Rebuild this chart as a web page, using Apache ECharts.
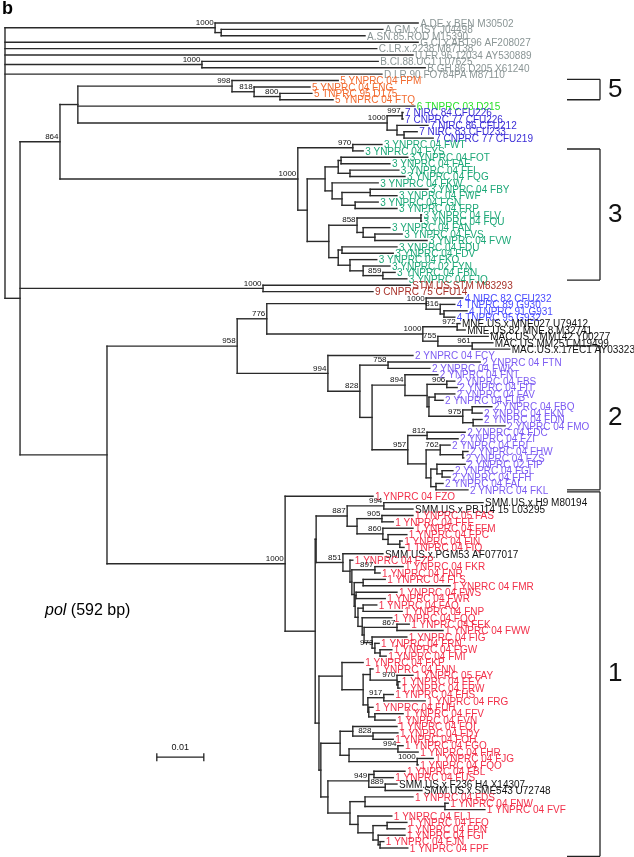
<!DOCTYPE html>
<html><head><meta charset="utf-8">
<script src="https://cdn.jsdelivr.net/npm/echarts@6/dist/echarts.min.js"></script>
<style>html,body{margin:0;padding:0;background:#fff}#c{width:634px;height:857px}</style>
</head><body><div id="c"></div><script>
// Node depths = distance from root, in units of 0.001 substitutions/site (Newick-like, cumulative).
const cladeA = "(A.DE.x.BEN M30502:87.9,(A.GM.x.ISY J04498:80.4,A.SN.85.ROD M15390:76.6):46.0)1000:44.7";
const cladeB = "(B.CI.88.UC1 L07625:79.4,B.GH.86.D205 X61240:89.4)1000:41.9";
const clade5 = "(5 YNPRC 04 FPM:70.9,(5 YNPRC 04 FNG:64.9,(5 TNPRC 95 D175:65.3,5 YNPRC 04 FTQ:69.8)800:58.5)818:53.0)998:48.3";
const clade7 = "((7 NIRC 84 CFU226:84.7,7 CNPRC 77 CFU226:84.7)997:84.5,(7 NIRC 86 CFU212:90.0,(7 NIRC 83 CFU233:87.7,7 CNPRC 77 CFU219:91.1):84.9):83.4)1000:81.3";
const clade3 = "((3 YNPRC 04 FWT:80.2,3 YNPRC 04 FYS:76.2)970:74.0,((((3 YNPRC 04 FOT:85.7,3 YNPRC 04 FAE:81.9):71.5,(3 YNPRC 04 FFI:83.8,3 YNPRC 04 FQG:85.1):73.4):70.9,(3 YNPRC 04 FKW:79.4,((3 YNPRC 04 FBY:90.0,3 YNPRC 04 FWF:83.4):77.7,(3 YNPRC 04 FGN:79.4,3 YNPRC 04 FRP:83.4):74.5):71.7):69.6):68.1,(((3 YNPRC 04 FLV:88.6,3 YNPRC 04 FQU:88.6):88.5,(3 YNPRC 04 FAN:81.9,(3 YNPRC 04 FVS:84.5,3 YNPRC 04 FVW:89.8):78.7):76.2)858:74.9,((3 YNPRC 04 FDU:83.4,3 YNPRC 04 FDV:82.6):71.7,(3 YNPRC 04 FKO:79.1,(3 YNPRC 02 FYN:81.9,(3 YNPRC 04 FBN:83.0,3 YNPRC 04 FJQ:85.5)859:80.4):76.2):73.4):70.9):68.9):64.3)1000:62.3";
const cladeSTM = "(STM.US.STM M83293:86.2,9 CNPRC 75 CFU14:78.3)1000:54.9";
const clade4 = "((4 NIRC 82 CFU232:97.4,(4 TNPRC 89 G930:95.7,(4 TNPRC 91 G931:98.3,4 TNPRC 95 G932:95.7):93.4)816:92.6)1000:89.6,((MNE.US.x.MNE027 U79412:96.8,MNE.US.82.MNE 8 M32741:97.9)972:96.2,(MAC.US.x.MM142 Y00277:102.8,(MAC.US.MM251 M19499:103.8,MAC.US.x.17EC1 AY033233:107.4)961:99.4)755:92.1)1000:88.9)776:55.7";
const clade2 = "(2 YNPRC 04 FCY:86.8,((2 YNPRC 04 FTN:101.1,2 YNPRC 04 FWK:90.4)758:81.5,((2 YNPRC 04 FNT:92.1,((2 YNPRC 04 FBS:95.7,2 YNPRC 04 FIT:96.2)906:94.0,((2 YNPRC 04 FAV:95.7,2 YNPRC 04 FUP:93.2):91.5,((2 YNPRC 04 FBQ:103.6,2 YNPRC 04 FKN:101.5):99.4,(2 YNPRC 04 FDN:101.5,2 YNPRC 04 FMO:106.4):99.6)975:97.4):90.2):89.8)894:85.1,((2 YNPRC 04 FDC:97.9,2 YNPRC 04 FZI:96.4)812:89.8,((2 YNPRC 04 FRI:94.7,(2 YNPRC 04 FHW:98.5,2 YNPRC 04 FZS:97.6):97.4)762:92.6,((2 YNPRC 02 FIP:97.9,(2 YNPRC 04 FGL:95.3,2 YNPRC 04 FFH:94.7):93.0):91.9,(2 YNPRC 04 FAL:93.2,2 YNPRC 04 FKL:98.5):91.7):90.6):89.6)957:85.7):78.1)828:75.5)994:68.7";
const clade887 = "((SMM.US.x.H9 M80194:101.7,SMM.US.x.PBJ14 15 L03295:86.8)994:80.6,((1 YNPRC 05 FAS:86.8,1 YNPRC 04 FFE:82.6)905:80.2,(1 YNPRC 04 FFM:86.8,(1 YNPRC 04 FPC:85.5,(1 YNPRC 04 FIN:84.5,1 TNPRC 04 FIQ:84.9):84.0):81.5)860:80.4):74.9)887:72.8";
const clade851 = "(SMM.US.x.PGM53 AF077017:80.4,(1 YNPRC 04 FZP:74.0,((1 YNPRC 04 FKR:84.7,1 YNPRC 04 FNR:79.8)897:78.7,((1 YNPRC 04 FLS:80.9,1 YNPRC 04 FMR:94.7):76.2,((1 YNPRC 04 FWS:83.4,1 YNPRC 04 FWR:80.9):74.7,((1 YNPRC 04 FAQ:79.1,1 YNPRC 04 FNP:84.5):76.2,(1 YNPRC 04 FQQ:82.3,((1 YNPRC 04 FEK:86.0,1 YNPRC 04 FWW:93.2)867:83.4,(1 YNPRC 04 FIG:85.5,(1 YNPRC 04 FRN:79.6,(1 YNPRC 04 FGW:82.3,1 YNPRC 04 FMI:81.1):79.8)973:78.7):78.1):76.4):76.0):75.1):74.5):74.3):73.8):73.4)851:71.9";
const cladeT1 = "(1 YNPRC 04 FKP:76.2,((1 YNPRC 04 FNN:78.3,(1 YNPRC 05 FAY:86.8,(1 YNPRC 04 FEY:84.0,1 YNPRC 04 FRW:84.0):83.6)970:83.4):77.7,((1 YNPRC 04 FHS:82.6,1 YNPRC 04 FRG:89.4)917:80.6,(1 YNPRC 04 FUH:78.3,(1 YNPRC 04 FFV:84.7,1 YNPRC 04 FVN:83.0):78.7):77.4):77.2):76.2):71.7";
const cladeU1 = "(((1 YNPRC 04 FQI:83.4,(1 YNPRC 04 FDY:83.6,1 YNPRC 04 FOH:82.6)828:78.3):74.0,((1 YNPRC 04 FGO:84.7,1 YNPRC 04 FHR:87.9)994:83.6,(1 YNPRC 04 FJG:91.1,1 YNPRC 04 FQO:87.9)1000:87.7):73.2):71.3,(((1 YNPRC 04 FBL:85.1,1 YNPRC 04 FUS:82.6):78.5,(SMM.US.x.F236 H4 X14307:83.4,SMM.US.x.SME543 U72748:88.7)889:80.9)949:77.4,((1 YNPRC 04 FDS:86.8,(1 YNPRC 04 FNW:94.3,1 YNPRC 04 FVF:102.1):93.6):76.6,(1 YNPRC 04 FLJ:82.3,((1 YNPRC 04 FFQ:85.5,1 YNPRC 04 FPN:85.1):81.3,(1 YNPRC 04 FGI:85.1,(1 YNPRC 04 FJN:80.6,1 YNPRC 04 FPF:85.7):79.8):79.4):78.3):75.1):73.4):68.7):67.2";
const clade1 = "(1 YNPRC 04 FZO:78.3,((@C887,@C851):66.2,(@T1,@U1):66.8):66.0)1000:59.6";
const backbone = "(@A,G.CI.x.ABT96 AF208027:87.9,C.LR.x.2238 M87138:79.1,U.FR.96.12034 AY530889:86.8,@B,D.LR.90.FO784PA M87110:80.2,(((@C5,6 TNPRC 03 D215:87.2,@C7):15.5,@C3)864:11.7,@STM,((@C4,@C2)958:49.4,@C1):21.7):3.2):0";

const scaleBarValue = 10;          // 0.01 substitutions/site
const scaleBarLabel = "0.01";
const groupNames = ["5", "3", "2", "1"];
const groupSpans = [[8.8, 12.0], [19.7, 40.2], [50.5, 73.0], [73.3, 130.3]]; // in leaf rows

const parts = {A: cladeA, B: cladeB, C5: clade5, C7: clade7, C3: clade3, STM: cladeSTM, C4: clade4, C2: clade2,
  C887: clade887, C851: clade851, T1: cladeT1, U1: cladeU1, C1: clade1};
function expand(s) { return s.replace(/@(\w+)/g, (m, k) => expand(parts[k])); }
function parse(s) {
  let i = 0;
  function node() {
    const n = {children: []};
    if (s[i] === '(') {
      i++; n.children.push(node());
      while (s[i] === ',') { i++; n.children.push(node()); }
      i++;
    }
    let lab = '';
    while (i < s.length && s[i] !== ':' && s[i] !== ',' && s[i] !== ')') lab += s[i++];
    n.label = lab.trim();
    if (s[i] === ':') { i++; let num = ''; while (i < s.length && /[0-9.]/.test(s[i])) num += s[i++]; n.depth = parseFloat(num); }
    return n;
  }
  return node();
}
const root = parse(expand(backbone));
const leaves = [], segs = [], boots = [];
(function layout(n, pd) {
  if (!n.children.length) { n.y = leaves.length; leaves.push(n); }
  else {
    n.children.forEach(c => layout(c, n.depth));
    const a = n.children[0].y, b = n.children[n.children.length - 1].y;
    n.y = (a + b) / 2;
    segs.push([n.depth, a, n.depth, b]);
    if (n.label) boots.push([n.depth, n.y, n.label]);
  }
  if (pd !== undefined) segs.push([pd, n.y, n.depth, n.y]);
})(root);

function colorOf(name) {
  const p = name.split(' ')[0];
  if (p === '1') return '#f2304a';
  if (p === '2') return '#7d5cf2';
  if (p === '3') return '#1ea878';
  if (p === '4') return '#4a4cff';
  if (p === '5') return '#f26b30';
  if (p === '6') return '#2be02b';
  if (p === '7') return '#3a2cd6';
  if (p === '9' || name.startsWith('STM')) return '#a8322a';
  if (/^(SMM|MNE|MAC)/.test(name)) return '#111111';
  return '#8a9595';
}
const FONT = "'Liberation Sans', Arial, Helvetica, sans-serif";
const chart = echarts.init(document.getElementById('c'), null, {renderer: 'canvas'});
chart.setOption({
  animation: false,
  grid: {left: 5, right: 0, top: 23, bottom: 9, containLabel: false},
  xAxis: {type: 'value', min: 0, max: 629 / 4.7, show: false},
  yAxis: {type: 'value', min: 0, max: 129, inverse: true, show: false},
  graphic: [
    {type: 'text', left: 2, top: 0, style: {text: 'b', font: "bold 18px " + FONT, fill: '#000'}},
    {type: 'text', left: 45, top: 603, style: {text: '{i|pol} (592 bp)', font: "16px " + FONT, fill: '#000',
      rich: {i: {font: "italic 16px " + FONT, fill: '#000'}}}}
  ],
  series: [
    {type: 'custom', coordinateSystem: 'cartesian2d', clip: false, silent: true, data: segs,
      encode: {x: [0, 2], y: [1, 3]},
      renderItem: (p, api) => {
        const a = api.coord([api.value(0), api.value(1)]), b = api.coord([api.value(2), api.value(3)]);
        return {type: 'line', shape: {x1: a[0], y1: a[1], x2: b[0], y2: b[1]},
          style: {stroke: '#2a2a2a', lineWidth: 1.4, lineCap: 'square'}};
      }},
    {type: 'custom', coordinateSystem: 'cartesian2d', clip: false, silent: true,
      data: leaves.map((l, i) => [l.depth, l.y, i]),
      renderItem: (p, api) => {
        const c = api.coord([api.value(0), api.value(1)]);
        const name = leaves[api.value(2)].label;
        return {type: 'text', x: c[0] + 2, y: c[1] + 1,
          style: {text: name, fill: colorOf(name), font: "10px " + FONT, align: 'left', verticalAlign: 'middle'}};
      }},
    {type: 'custom', coordinateSystem: 'cartesian2d', clip: false, silent: true,
      data: boots.map((b, i) => [b[0], b[1], i]),
      renderItem: (p, api) => {
        const c = api.coord([api.value(0), api.value(1)]);
        return {type: 'text', x: c[0] - 1.5, y: c[1] - 1,
          style: {text: boots[api.value(2)][2], fill: '#111', font: "8px " + FONT, align: 'right', verticalAlign: 'bottom'}};
      }},
    {type: 'custom', coordinateSystem: 'cartesian2d', clip: false, silent: true,
      data: [[32.3, 114.8]],
      renderItem: (p, api) => {
        const a = api.coord([api.value(0), api.value(1)]), b = api.coord([api.value(0) + scaleBarValue, api.value(1)]);
        const st = {stroke: '#222', lineWidth: 1.3};
        return {type: 'group', children: [
          {type: 'line', shape: {x1: a[0], y1: a[1], x2: b[0], y2: b[1]}, style: st},
          {type: 'line', shape: {x1: a[0], y1: a[1] - 4, x2: a[0], y2: a[1] + 4}, style: st},
          {type: 'line', shape: {x1: b[0], y1: b[1] - 4, x2: b[0], y2: b[1] + 4}, style: st},
          {type: 'text', x: (a[0] + b[0]) / 2, y: a[1] - 5, style: {text: scaleBarLabel, font: "9px " + FONT, fill: '#111', align: 'center', verticalAlign: 'bottom'}}
        ]};
      }},
    {type: 'custom', coordinateSystem: 'cartesian2d', clip: false, silent: true,
      data: groupSpans.map((s, i) => [0, s[0], s[1], i]),
      renderItem: (p, api) => {
        const t = api.coord([0, api.value(1)])[1], b = api.coord([0, api.value(2)])[1];
        const x = 600, st = {stroke: '#222', lineWidth: 1.3};
        return {type: 'group', children: [
          {type: 'line', shape: {x1: 567, y1: t, x2: x, y2: t}, style: st},
          {type: 'line', shape: {x1: 567, y1: b, x2: x, y2: b}, style: st},
          {type: 'line', shape: {x1: x, y1: t, x2: x, y2: b}, style: st},
          {type: 'text', x: 608, y: (t + b) / 2, style: {text: groupNames[api.value(3)], font: "26px " + FONT, fill: '#111', align: 'left', verticalAlign: 'middle'}}
        ]};
      }}
  ]
});
</script></body></html>
